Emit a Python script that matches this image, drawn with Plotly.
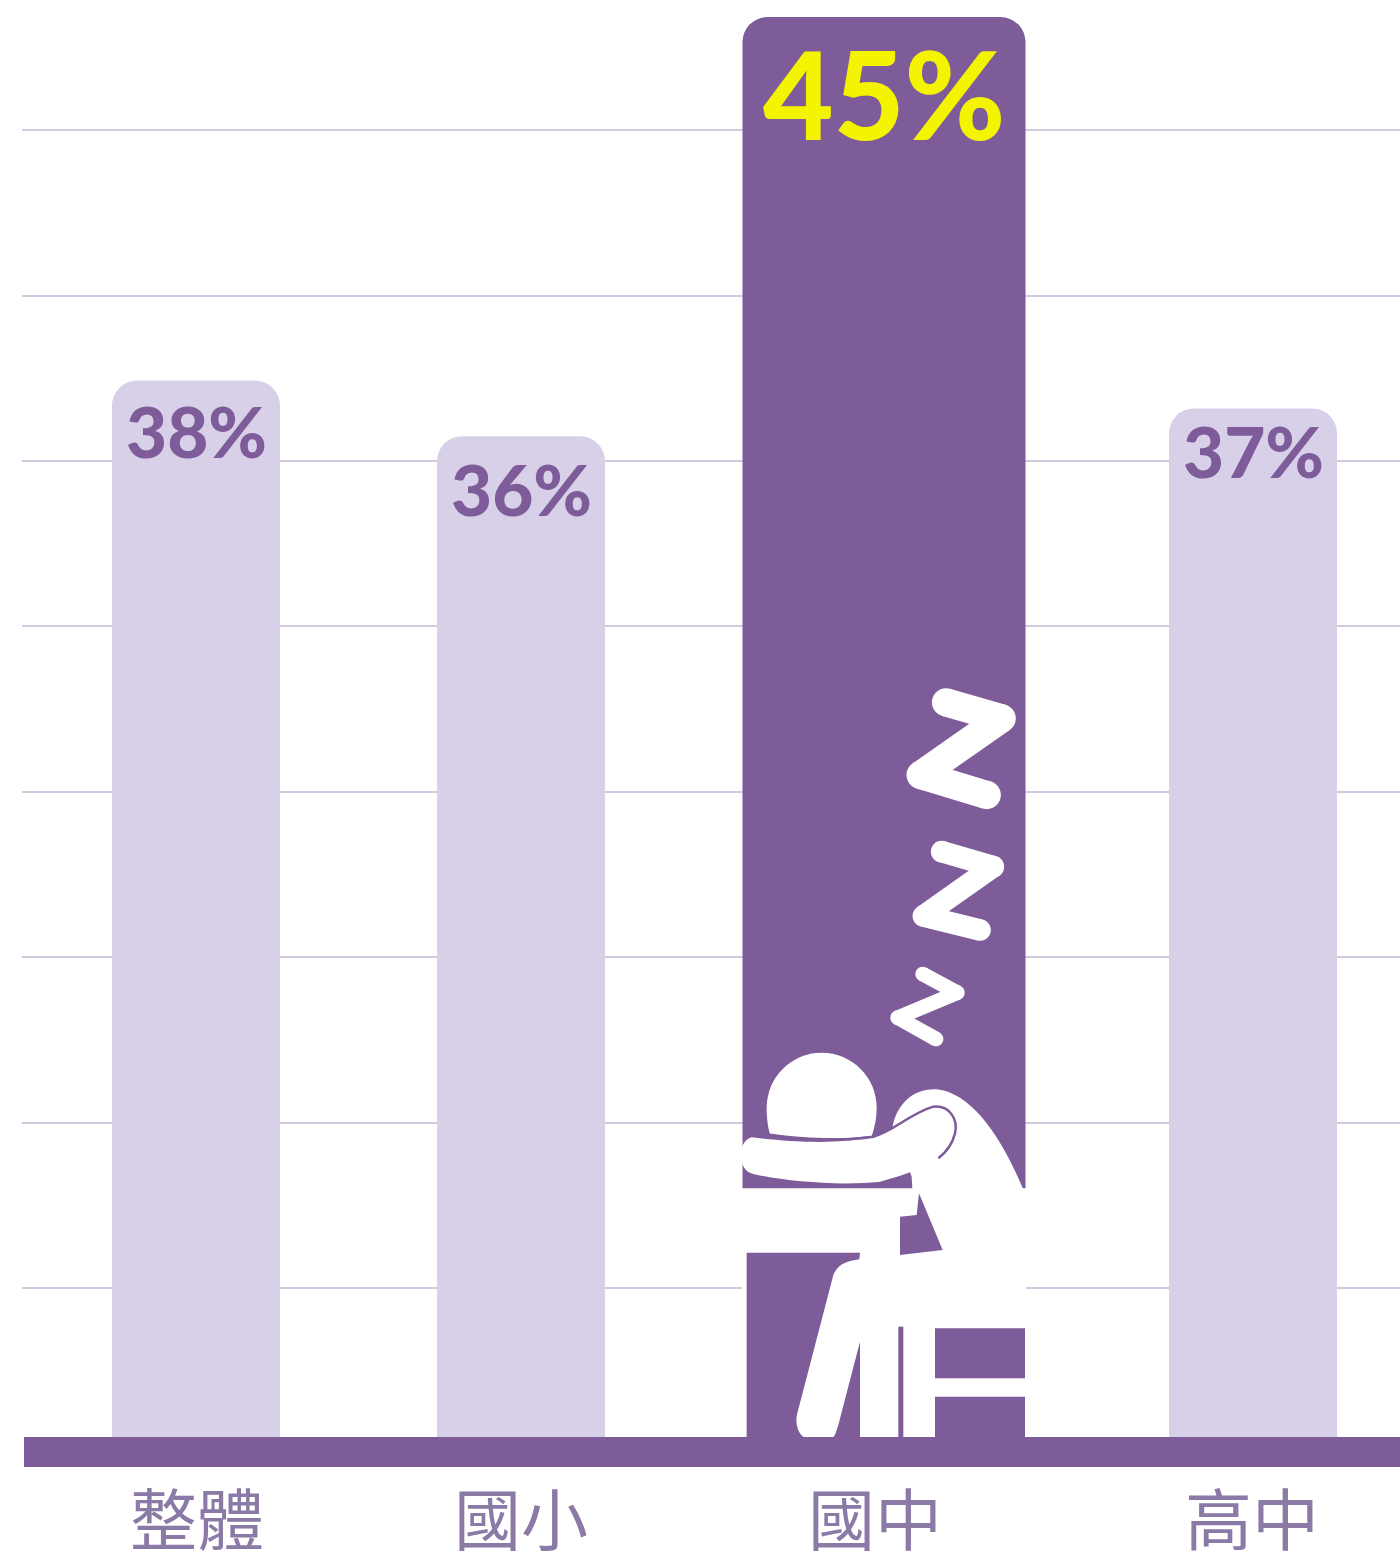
import re
import plotly.graph_objects as go

# Share of students in each school stage, in percent
stages = ["整體", "國小", "國中", "高中"]
shares = [38, 36, 45, 37]
highlighted = "國中"

# Horizontal layout on a pixel-scaled x axis
bar_centres = [196, 521, 884, 1253]
bar_widths = [168, 168, 283, 168]
stage_label_x = [197, 521, 875, 1252]
label_drop = [50, 52, 76, 42]

WIDTH, HEIGHT = 1400, 1560
LEFT, BASE_Y = 22, 1437
PX_PER_POINT = 27.8
HIGHLIGHT_TOP_PX = 1420

PURPLE = "#7d5c99"
LILAC = "#d8d0e8"
GRID = "#cfcadf"
YELLOW = "#f4f400"
WHITE = "#ffffff"
LABEL_GREY = "#8b7aa6"


def to_paper(x, y):
    return (x - LEFT) / (WIDTH - LEFT), (BASE_Y - y) / BASE_Y


def icon_path(spec, origin):
    """Turn 'x,y' pairs given in 1/3-pixel icon units into paper coordinates."""
    def repl(m):
        px = origin[0] + float(m.group(1)) / 3
        py = origin[1] + float(m.group(2)) / 3
        a, b = to_paper(px, py)
        return f"{a:.5f},{b:.5f}"
    return re.sub(r"(-?\d+\.?\d*),(-?\d+\.?\d*)", repl, spec)


def filled(spec, origin, color):
    return dict(type="path", xref="paper", yref="paper", path=icon_path(spec, origin),
                fillcolor=color, line=dict(width=0), layer="above")


def outline(spec, origin, color, width):
    return dict(type="path", xref="paper", yref="paper", path=icon_path(spec, origin),
                fillcolor="rgba(0,0,0,0)", line=dict(color=color, width=width), layer="above")


def round_stroke(points, width, origin, color):
    """A polyline with round caps and joins, built from quads and discs."""
    out = []
    r = width / 2
    for (x0, y0), (x1, y1) in zip(points, points[1:]):
        dx, dy = x1 - x0, y1 - y0
        n = (dx * dx + dy * dy) ** 0.5
        ox, oy = -dy / n * r, dx / n * r
        out.append(filled(
            f"M{x0+ox:.1f},{y0+oy:.1f} L{x1+ox:.1f},{y1+oy:.1f} "
            f"L{x1-ox:.1f},{y1-oy:.1f} L{x0-ox:.1f},{y0-oy:.1f} Z", origin, color))
    for x, y in points:
        k = r * 0.5523
        out.append(filled(
            f"M{x-r:.1f},{y:.1f} C{x-r:.1f},{y-k:.1f} {x-k:.1f},{y-r:.1f} {x:.1f},{y-r:.1f} "
            f"C{x+k:.1f},{y-r:.1f} {x+r:.1f},{y-k:.1f} {x+r:.1f},{y:.1f} "
            f"C{x+r:.1f},{y+k:.1f} {x+k:.1f},{y+r:.1f} {x:.1f},{y+r:.1f} "
            f"C{x-k:.1f},{y+r:.1f} {x-r:.1f},{y+k:.1f} {x-r:.1f},{y:.1f} Z", origin, color))
    return out


fig = go.Figure()

regular_top = BASE_Y / PX_PER_POINT
highlight_value = shares[stages.index(highlighted)]
highlight_top = highlight_value * BASE_Y / HIGHLIGHT_TOP_PX

for stage, share, centre, bar_w in zip(stages, shares, bar_centres, bar_widths):
    is_hi = stage == highlighted
    fig.add_bar(
        x=[centre], y=[share], width=[bar_w], name=stage,
        yaxis="y2" if is_hi else "y",
        marker=dict(color=PURPLE if is_hi else LILAC, line=dict(width=0)),
        hoverinfo="skip",
    )

annotations = []
for stage, share, centre, drop in zip(stages, shares, bar_centres, label_drop):
    is_hi = stage == highlighted
    annotations.append(dict(
        x=centre, y=share, xref="x", yref="y2" if is_hi else "y",
        text=f"{share}%", showarrow=False, yanchor="middle", yshift=-drop,
        font=dict(family="Lato", weight=900, size=122 if is_hi else 71,
                  color=YELLOW if is_hi else PURPLE),
    ))

# Baseline under the bars
bx0, by0 = to_paper(24, 1437)
bx1, by1 = to_paper(1400, 1467)
shapes = [dict(type="rect", xref="paper", yref="paper", x0=bx0, x1=bx1, y0=by0, y1=by1,
               fillcolor=PURPLE, line=dict(width=0), layer="above")]

# Sleeping student pictogram on the highlighted bar
ICON = (720, 1030)
shapes = [
    # desk, chair and lower body block
    filled("M66,475 L918,475 L918,1224 L66,1224 Z", ICON, WHITE),
    # torso
    filled("M518,288 C535,210 590,175 650,178 C760,190 850,330 918,498 L918,900 L600,900 "
           "L575,440 Z", ICON, WHITE),
    # head
    filled("M150,312 C143,290 140,260 140,233 C140,142 214,68 305,68 C396,68 470,142 470,233 "
           "C470,262 465,290 455,318 C350,330 250,328 150,312 Z", ICON, WHITE),
    # forearm
    filled("M95,322 C200,335 350,345 450,322 C520,305 570,250 640,230 C690,225 715,270 705,310 "
           "C690,370 620,420 480,455 C360,468 200,455 100,432 C50,420 50,335 95,322 Z",
           ICON, WHITE),
    outline("M150,314 C250,330 380,332 460,320 C520,305 570,250 640,230 C690,225 715,270 705,310 "
            "C698,340 680,365 655,385", ICON, PURPLE, 2.5),
    # gaps left open between desk, legs and chair
    filled("M540,560 L590,555 L597,490 L668,660 L540,675 Z", ICON, PURPLE),
    filled("M80,668 L420,668 L418,688 C380,695 355,700 340,735 L232,1150 "
           "C222,1185 240,1224 262,1224 L80,1224 Z", ICON, PURPLE),
    filled("M335,1224 C345,1222 350,1200 355,1185 L420,935 L420,1224 Z", ICON, PURPLE),
    filled("M535,890 L550,890 L550,1224 L535,1224 Z", ICON, PURPLE),
    filled("M645,895 L915,895 L915,1045 L645,1045 Z", ICON, PURPLE),
    filled("M645,1100 L915,1100 L915,1224 L645,1224 Z", ICON, PURPLE),
] + shapes

# The three letters rising from the sleeper
ZZZ = (860, 670)
shapes += round_stroke([(258, 97), (425, 145), (182, 315), (380, 375)], 85, ZZZ, WHITE)
shapes += round_stroke([(245, 545), (400, 590), (190, 738), (360, 780)], 65, ZZZ, WHITE)
shapes += round_stroke([(188, 912), (292, 968), (113, 1043), (228, 1107)], 44, ZZZ, WHITE)

fig.update_layout(
    width=WIDTH, height=HEIGHT, autosize=False,
    margin=dict(l=LEFT, r=0, t=0, b=HEIGHT - BASE_Y, pad=0),
    paper_bgcolor=WHITE, plot_bgcolor=WHITE,
    showlegend=False, barmode="overlay",
    xaxis=dict(
        range=[LEFT, WIDTH], showgrid=False, zeroline=False, showline=False, automargin=False,
        tickmode="array", tickvals=stage_label_x, ticktext=stages,
        ticks="outside", ticklen=27, tickcolor="rgba(0,0,0,0)",
        tickfont=dict(family="Liberation Sans, Noto Sans CJK TC", size=67, color=LABEL_GREY),
    ),
    yaxis=dict(
        range=[0, regular_top], showticklabels=False, ticks="", zeroline=False, showline=False,
        automargin=False,
        showgrid=True, gridcolor=GRID, gridwidth=2, tick0=5.36, dtick=5.95,
    ),
    yaxis2=dict(
        range=[0, highlight_top], overlaying="y", side="left", visible=False, showgrid=False,
    ),
    barcornerradius=25,
    shapes=shapes,
    annotations=annotations,
)

fig.write_html("out.html")
